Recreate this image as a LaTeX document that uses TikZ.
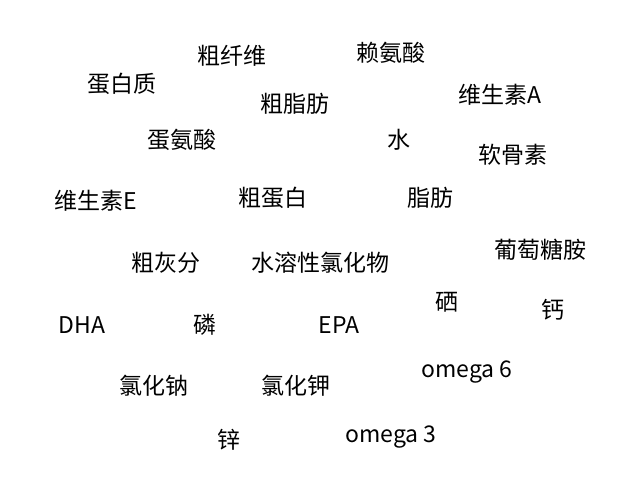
\documentclass[tikz,border=0pt]{standalone}
\usepackage{fontspec}
\setmainfont{Noto Sans CJK SC}
\usetikzlibrary{positioning}
\tikzset{word/.style={inner sep=0pt, font=\fontsize{23}{27}\selectfont}}
\begin{document}
\begin{tikzpicture}[x=1pt, y=-1pt]
  \useasboundingbox (0,0) rectangle (640,485);
  \foreach \name/\x/\y/\txt in {
      fiber/232/56/粗纤维, lys/391/53/赖氨酸, prot/122/84/蛋白质,
      vita/500/95/维生素A, fat/295/104/粗脂肪, met/182/140/蛋氨酸,
      water/399/140/水, chond/513/155/软骨素, vite/96/201/维生素E,
      crude/273/198/粗蛋白, lipid/430/198/脂肪, gluc/540/250/葡萄糖胺,
      ash/166/263/粗灰分, chlor/320/263/水溶性氯化物, se/447/302/硒,
      ca/553/310/钙, dha/82/325/DHA, p/205/325/磷, epa/339/325/EPA,
      omsix/467/372/omega 6, nacl/154/386/氯化钠, kcl/296/386/氯化钾,
      zn/229/440/锌, omthree/391/437/omega 3} {
    \node[word] (\name) at (\x,\y) {\txt};
  }
\end{tikzpicture}
\end{document}
